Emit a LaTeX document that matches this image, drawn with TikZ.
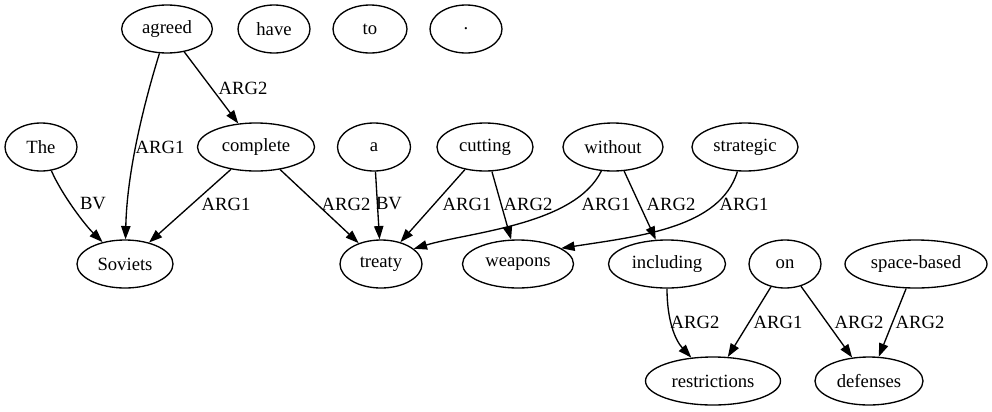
\documentclass[tikz,border=0pt]{standalone}
\usepackage{fontspec}
\setmainfont{Liberation Serif}
\usepackage{tikz}
\usetikzlibrary{arrows.meta,shapes.geometric}

\begin{document}
\begin{tikzpicture}[x=0.75pt, y=-0.75pt,
    word/.style={draw, ellipse, line width=1pt, inner sep=0pt, minimum height=36pt,
                 font=\fontsize{14}{16}\selectfont},
    rel/.style={draw, line width=1pt, -{Triangle[length=10pt,width=7pt]}},
    lbl/.style={inner sep=0pt, font=\fontsize{14}{16}\selectfont}]
            \useasboundingbox (0,0) rectangle (992,411);
            % top row
            \node[word, minimum width=68pt] (agreed) at (167,29) {agreed};
            \node[word, minimum width=54pt] (have) at (274,29) {have};
            \node[word, minimum width=55.5pt] (to) at (370,29) {to};
            \node[word, minimum width=54pt] (stop) at (466,29) {.};
            % second row
            \node[word, minimum width=54pt] (The) at (41,147) {The};
            \node[word, minimum width=87.75pt] (complete) at (256,147) {complete};
            \node[word, minimum width=54.75pt] (a) at (374,147) {a};
            \node[word, minimum width=72pt] (cutting) at (485,147) {cutting};
            \node[word, minimum width=75pt] (without) at (613,147) {without};
            \node[word, minimum width=79.5pt] (strategic) at (745,147) {strategic};
            % third row
            \node[word, minimum width=72pt] (Soviets) at (125,264) {Soviets};
            \node[word, minimum width=61.5pt] (treaty) at (381,264) {treaty};
            \node[word, minimum width=83.25pt] (weapons) at (518,264) {weapons};
            \node[word, minimum width=87.75pt] (including) at (667,264) {including};
            \node[word, minimum width=54pt] (on) at (785,264) {on};
            \node[word, minimum width=106.5pt] (spacebased) at (916,264) {space-based};
            % bottom row
            \node[word, minimum width=101.25pt] (restrictions) at (713,381) {restrictions};
            \node[word, minimum width=81pt] (defenses) at (869,381) {defenses};

            \draw[rel] (agreed) .. controls (145,100) and (127,170) .. (Soviets) node[lbl] at (160,147) {ARG1};
            \draw[rel] (agreed) -- (complete) node[lbl] at (243,88) {ARG2};
            \draw[rel] (The) .. controls (62,195) and (85,225) .. (Soviets) node[lbl] at (93,204) {BV};
            \draw[rel] (complete) -- (Soviets) node[lbl] at (226,204) {ARG1};
            \draw[rel] (complete) -- (treaty) node[lbl] at (346,204) {ARG2};
            \draw[rel] (a) -- (treaty) node[lbl] at (389,204) {BV};
            \draw[rel] (cutting) -- (treaty) node[lbl] at (467,204) {ARG1};
            \draw[rel] (cutting) -- (weapons) node[lbl] at (528,204) {ARG2};
            \draw[rel] (without) .. controls (575,225) and (470,232) .. (treaty.25) node[lbl] at (606,204) {ARG1};
            \draw[rel] (without) -- (including) node[lbl] at (671,204) {ARG2};
            \draw[rel] (strategic) .. controls (720,228) and (640,236) .. (weapons.20) node[lbl] at (744,204) {ARG1};
            \draw[rel] (including) .. controls (667,320) and (675,340) .. (restrictions) node[lbl] at (695,322) {ARG2};
            \draw[rel] (on) -- (restrictions) node[lbl] at (778,322) {ARG1};
            \draw[rel] (on) -- (defenses) node[lbl] at (859,322) {ARG2};
            \draw[rel] (spacebased) -- (defenses) node[lbl] at (920,322) {ARG2};
        \end{tikzpicture}
\end{document}
